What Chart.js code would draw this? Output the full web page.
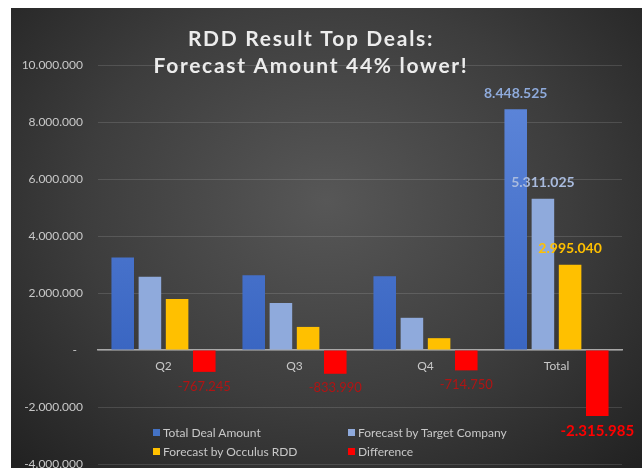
<!DOCTYPE html>
<html>
<head>
<meta charset="utf-8">
<title>RDD Result Top Deals</title>
<script src="https://cdn.jsdelivr.net/npm/chart.js@4/dist/chart.umd.min.js"></script>
<style>
  body { margin: 0; background: #fff; }
  #wrap {
    position: absolute; left: 11px; top: 8px; width: 631px; height: 460px;
    background: radial-gradient(ellipse 70% 80% at 50% 42%, #575757 0%, #3d3d3d 55%, #222 100%);
  }
  #legend { position: absolute; left: 0; top: 0; font: 12px Lato, sans-serif; color: #c8c8c8; }
  .item { position: absolute; white-space: nowrap; line-height: 14px; }
  .item i { display: inline-block; width: 7px; height: 7px; margin-right: 3px; vertical-align: 1px; }
</style>
</head>
<body>
<div id="wrap">
  <canvas id="chart" width="631" height="460"></canvas>
  <div id="legend"></div>
</div>
<script>
// 분기별 값
const categories = ["Q2", "Q3", "Q4", "Total"];
const totalDeal = [3250000, 2620000, 2590000, 8448525];
const targetCompany = [2570000, 1650000, 1130000, 5311025];
const occulusRdd = [1790000, 810000, 415000, 2995040];
const difference = [-767245, -833990, -714750, -2315985];
const seriesNames = ["Total Deal Amount", "Forecast by Target Company", "Forecast by Occulus RDD", "Difference"];
const yTicks = { min: -4000000, max: 10000000, step: 2000000 };

const blue = "#4472c4";
const lightBlue = "#8faadc";
const yellow = "#ffc000";
const red = "#ff0000";

function fmt(v) {
  const s = Math.abs(Math.round(v)).toString().replace(/\B(?=(\d{3})+(?!\d))/g, ".");
  return (v < 0 ? "-" : "") + s;
}

// 파란 막대 그라데이션
function blueGradient(context) {
  const chart = context.chart;
  if (!chart.chartArea) return blue;
  const y = chart.scales.y;
  const g = chart.ctx.createLinearGradient(0, y.getPixelForValue(8500000), 0, y.getPixelForValue(0));
  g.addColorStop(0, "#5b84d8");
  g.addColorStop(1, "#3a66c2");
  return g;
}

// 제목 (플롯 영역 위에 겹쳐서)
const titlePlugin = {
  id: "overTitle",
  afterDraw(chart) {
    const ctx = chart.ctx;
    ctx.save();
    ctx.fillStyle = "#ececec";
    ctx.font = "bold 21px Lato, sans-serif";
    ctx.letterSpacing = "1.7px";
    ctx.textAlign = "center";
    ctx.textBaseline = "middle";
    ctx.fillText("RDD Result Top Deals:", 300, 31);
    ctx.fillText("Forecast Amount 44% lower!", 300, 58);
    ctx.restore();
  }
};

// 값 라벨
const labelPlugin = {
  id: "valueLabels",
  afterDatasetsDraw(chart) {
    const ctx = chart.ctx;
    ctx.save();
    ctx.textAlign = "center";
    chart.data.datasets.forEach((ds, di) => {
      const meta = chart.getDatasetMeta(di);
      meta.data.forEach((bar, i) => {
        const v = ds.data[i];
        if (di < 3 && i === 3) {
          ctx.font = "bold 14px Lato, sans-serif";
          ctx.fillStyle = ["#8eaadb", "#a9bbde", yellow][di];
          ctx.textBaseline = "bottom";
          ctx.fillText(fmt(v), bar.x, bar.y - 9);
        } else if (di === 3) {
          ctx.textBaseline = "top";
          if (i === 3) {
            ctx.font = "bold 15px Lato, sans-serif";
            ctx.fillStyle = red;
          } else {
            ctx.font = "13px Lato, sans-serif";
            ctx.fillStyle = "#b01414";
          }
          ctx.fillText(fmt(v), bar.x, bar.y + 8);
        }
      });
    });
    ctx.restore();
  }
};

const data = {
  labels: categories,
  datasets: [
    { label: seriesNames[0], data: totalDeal, backgroundColor: blueGradient },
    { label: seriesNames[1], data: targetCompany, backgroundColor: lightBlue },
    { label: seriesNames[2], data: occulusRdd, backgroundColor: yellow },
    { label: seriesNames[3], data: difference, backgroundColor: red },
  ],
};

const config = {
  type: "bar",
  data: data,
  options: {
    responsive: false,
    animation: false,
    categoryPercentage: 0.83,
    barPercentage: 0.83,
    layout: { padding: { top: 57, right: 20, bottom: 4, left: 0 } },
    plugins: { legend: { display: false }, tooltip: { enabled: false } },
    scales: {
      x: {
        position: { y: 0 },
        afterFit(scale) {
          // 0 위치 축이라 아래 공간 필요 없음
          scale.height = 0;
          scale.paddingTop = 0;
          scale.paddingBottom = 0;
        },
        grid: { display: false, drawTicks: false },
        border: { color: "#a8a8a8", width: 1.5 },
        ticks: { color: "#c8c8c8", font: { family: "Lato", size: 12 }, padding: 9 },
      },
      y: {
        min: yTicks.min,
        max: yTicks.max,
        afterFit(scale) {
          scale.width = 87;
          scale.paddingBottom = 0;
        },
        grid: { color: "rgba(255,255,255,0.13)", drawTicks: false },
        border: { display: false },
        ticks: {
          stepSize: yTicks.step,
          padding: 15,
          color: "#c8c8c8",
          font: { family: "Lato", size: 12 },
          callback: (v) => (v === 0 ? "-  " : fmt(v)),
        },
      },
    },
  },
  plugins: [titlePlugin, labelPlugin],
};

const chart = new Chart(document.getElementById("chart"), config);

// 범례 (2열)
const legendPos = [[142, 418], [337, 418], [142, 437], [337, 437]];
const legendColors = [blue, lightBlue, yellow, red];
const legend = document.getElementById("legend");
seriesNames.forEach((name, i) => {
  const el = document.createElement("div");
  el.className = "item";
  el.style.left = legendPos[i][0] + "px";
  el.style.top = legendPos[i][1] + "px";
  el.innerHTML = `<i style="background:${legendColors[i]}"></i>${name}`;
  legend.appendChild(el);
});
</script>
</body>
</html>
